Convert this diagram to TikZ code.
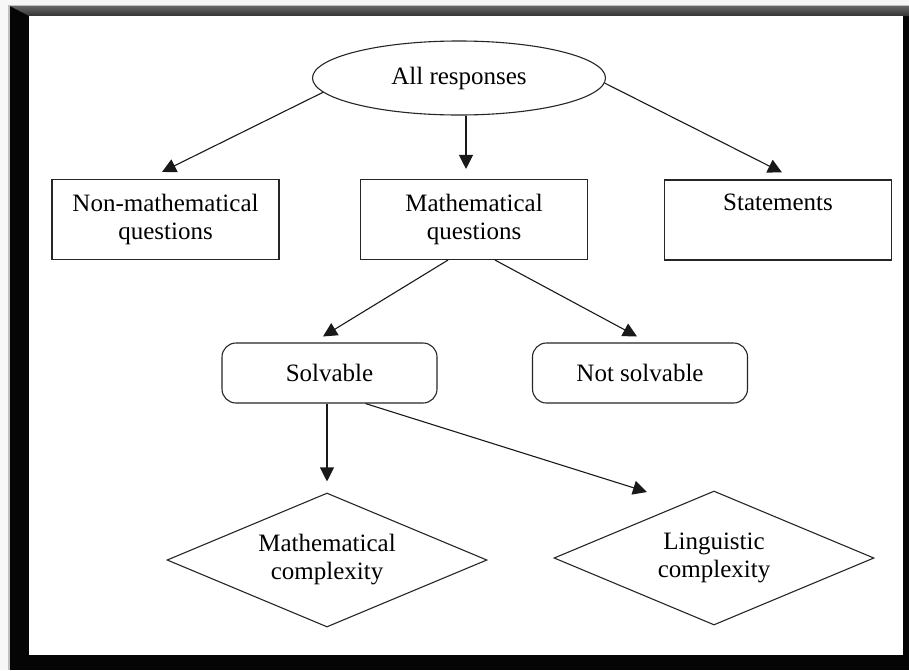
\documentclass[tikz,border=0pt]{standalone}
\usepackage{fontspec}
\setmainfont{Liberation Serif}
\usetikzlibrary{shapes.geometric,arrows.meta,calc}
\begin{document}
\begin{tikzpicture}[x=1pt,y=-1pt,
  every node/.style={font=\fontsize{25}{28}\selectfont, align=center, text=black},
  shp/.style={draw=black!85, line width=1.1pt, inner sep=0pt},
  sqbox/.style={shp, rectangle, minimum width=227pt, minimum height=80pt},
  rbox/.style={shp, rectangle, rounded corners=14pt, minimum width=215pt, minimum height=60pt},
  ell/.style={shp, ellipse, minimum width=293pt, minimum height=74pt},
  dia/.style={shp, diamond, aspect=2.39, minimum width=320pt, minimum height=134pt},
  arr/.style={draw=black!90, line width=1.1pt, -{Triangle[length=14pt,width=14pt]}}
]
\useasboundingbox (0,0) rectangle (909,670);
% frame
\fill[black!3] (0,0) rectangle (909,670);
\fill[black!25] (8,5) rectangle (909,670);
\fill[black!98] (10,6) rectangle (909,670);
\shade[top color=black!60, bottom color=black!80] (10,6) -- (909,6) -- (909,16) -- (29,16) -- cycle;
\fill[white] (29,16) rectangle (903,655);

% nodes
\node[ell] (all) at (459,78) {All responses};
\node[sqbox] (nm) at (165.5,219.5) {Non-mathematical\\questions};
\node[sqbox] (mq) at (474,219.5) {Mathematical\\questions};
\node[sqbox] (st) at (778,220) {Statements\\\strut};
\node[rbox] (sv) at (329.5,373) {Solvable};
\node[rbox] (ns) at (640,373) {Not solvable};
\node[dia] (mc) at (327,560) {Mathematical\\complexity};
\node[dia] (lc) at (714,558) {Linguistic\\complexity};
\coordinate (lt) at (647,492);

% connectors
\draw[arr] (all.186) -- ([xshift=-3.5pt,yshift=7pt]nm.north);
\draw[arr] ([xshift=7pt]all.south) -- ([xshift=-8pt,yshift=10pt]mq.north);
\draw[arr] (all.-2) -- ([xshift=4pt,yshift=7pt]st.north);
\draw[arr] ([xshift=-26pt]mq.south) -- ([xshift=-6.5pt,yshift=6pt]sv.north);
\draw[arr] ([xshift=21pt]mq.south) -- ([xshift=-3pt,yshift=6pt]ns.north);
\draw[arr] (sv.south -| mc.north) -- ([yshift=11pt]mc.north);
\draw[arr] ([xshift=36pt]sv.south) -- (lt);
\end{tikzpicture}
\end{document}
